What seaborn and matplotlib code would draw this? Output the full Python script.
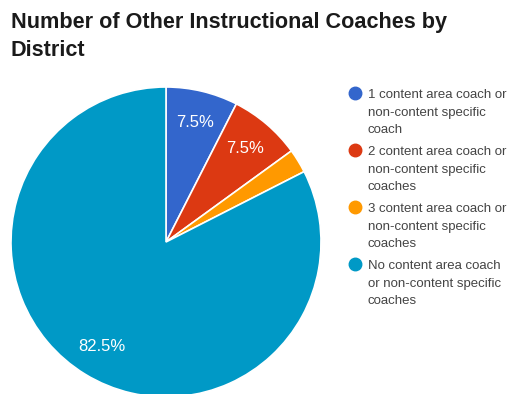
import matplotlib
matplotlib.use("Agg")
import matplotlib.pyplot as plt
from matplotlib.lines import Line2D
import seaborn as sns

# Share of districts by number of other instructional coaches
categories = [
    "1 content area coach or\nnon-content specific\ncoach",
    "2 content area coach or\nnon-content specific\ncoaches",
    "3 content area coach or\nnon-content specific\ncoaches",
    "No content area coach\nor non-content specific\ncoaches",
]
shares = [7.5, 7.5, 2.5, 82.5]
colors = ["#3366cc", "#dc3912", "#ff9900", "#0099c6"]
title = "Number of Other Instructional Coaches by\nDistrict"

sns.set_theme(style="white")
plt.rcParams["font.family"] = ["Liberation Sans", "DejaVu Sans"]

fig = plt.figure(figsize=(5.11, 3.94), dpi=100)
W, H = 511, 394

# pie centre and radius in pixels
cx, cy, r = 166, 242, 155
ax = fig.add_axes([(cx - r) / W, (H - cy - r) / H, 2 * r / W, 2 * r / H])


def pct_label(p):
    return f"{p:.1f}%" if p >= 5 else ""


wedges, texts, autotexts = ax.pie(
    shares,
    colors=colors,
    startangle=90,
    counterclock=False,
    autopct=pct_label,
    pctdistance=0.79,
    wedgeprops=dict(edgecolor="white", linewidth=1.2),
    textprops=dict(color="white", fontsize=12),
)
ax.set_xlim(-1, 1)
ax.set_ylim(-1, 1)
ax.set_aspect("equal")
ax.axis("off")

fig.text(11 / W, 1 - 12 / H, title, fontsize=15.6, fontweight="bold",
         color="#1a1a1a", ha="left", va="top", linespacing=1.45)

# legend: circle marker beside each wrapped label
y0, step = 93, 57
for i, (lab, col) in enumerate(zip(categories, colors)):
    y = y0 + i * step
    fig.add_artist(Line2D([355 / W], [1 - y / H], marker="o", markersize=9,
                          color=col, linestyle="none", transform=fig.transFigure))
    fig.text(368 / W, 1 - (y - 4) / H, lab, fontsize=9.5, color="#444444",
             ha="left", va="top", linespacing=1.62)

fig.savefig("out.png", dpi=100)
